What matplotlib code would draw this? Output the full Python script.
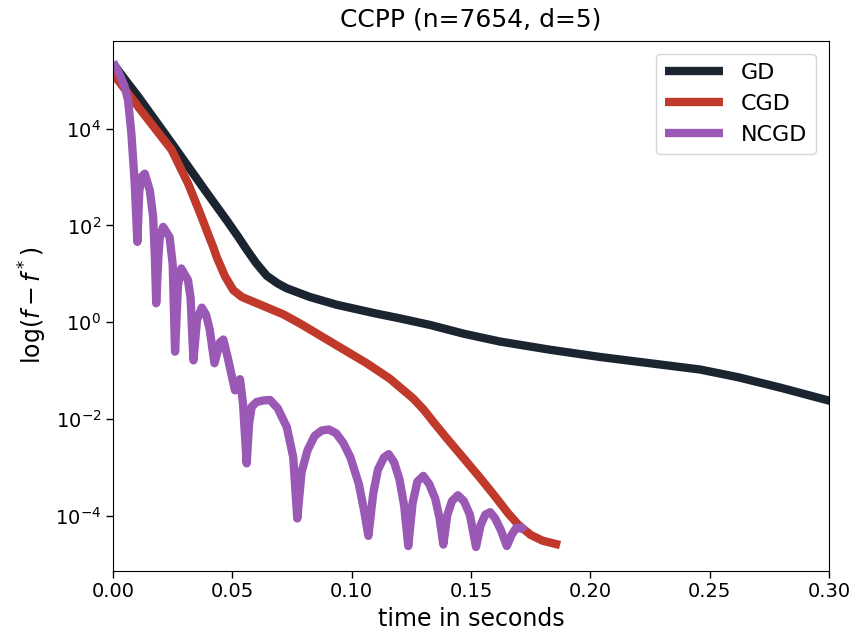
import matplotlib
matplotlib.use("Agg")
import matplotlib.pyplot as plt
import matplotlib.ticker as mticker
import numpy as np

# ---- data (log10 of f - f*) ----
gd_t = [0.000, 0.0050, 0.0106, 0.0246, 0.0385, 0.0480, 0.0525, 0.0560, 0.0600, 0.0644,
        0.0690, 0.0728, 0.0825, 0.0937, 0.1100, 0.1200, 0.1330, 0.1470, 0.1620, 0.1830,
        0.2040, 0.2250, 0.2460, 0.2620, 0.2800, 0.2990, 0.3050]
gd_log = [5.35, 5.02, 4.66, 3.70, 2.73, 2.08, 1.76, 1.50, 1.22, 0.96,
          0.80, 0.70, 0.52, 0.36, 0.18, 0.08, -0.06, -0.24, -0.40, -0.57,
          -0.72, -0.85, -0.98, -1.14, -1.36, -1.61, -1.69]

cgd_t = [0.000, 0.0106, 0.0246, 0.0316, 0.0365, 0.0400, 0.0420, 0.0434, 0.0469, 0.0504,
         0.0540, 0.0574, 0.0637, 0.0714, 0.0784, 0.0825, 0.0920, 0.1063, 0.1160, 0.1258,
         0.1300, 0.1345, 0.1398, 0.1470, 0.1538, 0.1600, 0.1655, 0.1700, 0.1750, 0.1800,
         0.1873]
cgd_log = [5.14, 4.45, 3.56, 2.85, 2.25, 1.80, 1.55, 1.35, 0.95, 0.66,
           0.52, 0.45, 0.32, 0.16, -0.03, -0.15, -0.43, -0.85, -1.17, -1.58,
           -1.80, -2.08, -2.40, -2.82, -3.22, -3.60, -3.95, -4.20, -4.40, -4.52,
           -4.61]

ncgd_t = [0.000, 0.0025, 0.0049, 0.0063, 0.0077, 0.0091, 0.0102, 0.0110, 0.0119, 0.0133,
          0.0154, 0.0168, 0.0175, 0.0181, 0.0190, 0.0196, 0.0210, 0.0237, 0.0250, 0.0260,
          0.0272, 0.0286, 0.0314, 0.0325, 0.0337, 0.0352, 0.0372, 0.0390, 0.0405, 0.0425,
          0.0448, 0.0462, 0.0480, 0.0511, 0.0532, 0.0545, 0.0560, 0.0570, 0.0581, 0.0602,
          0.0630, 0.0658, 0.0690, 0.0728, 0.0755, 0.0772, 0.0790, 0.0815, 0.0845, 0.0875,
          0.0905, 0.0935, 0.0965, 0.0995, 0.1030, 0.1052, 0.1070, 0.1090, 0.1110, 0.1135,
          0.1155, 0.1178, 0.1200, 0.1220, 0.1237, 0.1255, 0.1275, 0.1300, 0.1325, 0.1350,
          0.1368, 0.1384, 0.1400, 0.1420, 0.1445, 0.1470, 0.1495, 0.1521, 0.1540, 0.1560,
          0.1580, 0.1600, 0.1625, 0.1650, 0.1670, 0.1690, 0.1710, 0.1726]
ncgd_log = [5.38, 5.15, 4.87, 4.59, 3.90, 2.87, 1.66, 2.70, 3.00, 3.07,
            2.73, 2.18, 1.40, 0.39, 1.35, 1.76, 1.97, 1.76, 1.20, -0.61,
            0.75, 1.11, 0.87, 0.50, -0.79, 0.05, 0.30, 0.15, -0.15, -0.85,
            -0.42, -0.36, -0.72, -1.41, -1.18, -1.70, -2.92, -2.10, -1.75, -1.65,
            -1.62, -1.61, -1.78, -2.17, -2.79, -4.06, -3.10, -2.65, -2.35, -2.24,
            -2.22, -2.30, -2.50, -2.80, -3.35, -3.90, -4.42, -3.55, -3.05, -2.80,
            -2.73, -2.90, -3.25, -3.80, -4.63, -3.75, -3.30, -3.18, -3.35, -3.65,
            -4.05, -4.60, -4.00, -3.70, -3.58, -3.70, -3.98, -4.65, -4.20, -3.98,
            -3.93, -4.05, -4.30, -4.63, -4.40, -4.25, -4.27, -4.20]

labels = ["GD", "CGD", "NCGD"]
colors = ["#1b2431", "#c0392b", "#9b59b6"]

fig = plt.figure(figsize=(8.51, 6.38), dpi=100)
ax = fig.add_axes([0.1328, 0.1055, 0.8414, 0.8307])

series = [(gd_t, gd_log), (cgd_t, cgd_log), (ncgd_t, ncgd_log)]
for (t, lv), lab, c in zip(series, labels, colors):
    ax.plot(t, 10.0 ** np.array(lv), color=c, lw=6, label=lab,
            solid_capstyle="butt", solid_joinstyle="round")

ax.set_yscale("log")
ax.set_xlim(0, 0.30)
ax.set_ylim(10 ** -5.14, 10 ** 5.82)
ax.yaxis.set_major_locator(mticker.FixedLocator([1e-4, 1e-2, 1e0, 1e2, 1e4]))
ax.yaxis.set_minor_locator(mticker.NullLocator())
ax.set_xticks([0.0, 0.05, 0.10, 0.15, 0.20, 0.25, 0.30])
ax.xaxis.set_major_formatter(mticker.FormatStrFormatter("%.2f"))
ax.tick_params(labelsize=14, length=5, width=1)

ax.set_title("CCPP (n=7654, d=5)", fontsize=18, pad=10)
ax.set_xlabel("time in seconds", fontsize=17)
ax.set_ylabel(r"log$(f-f^*)$", fontsize=17)

ax.legend(loc="upper right", fontsize=16, handlelength=2.6, borderaxespad=0.6)

fig.savefig("out.png", dpi=100)
